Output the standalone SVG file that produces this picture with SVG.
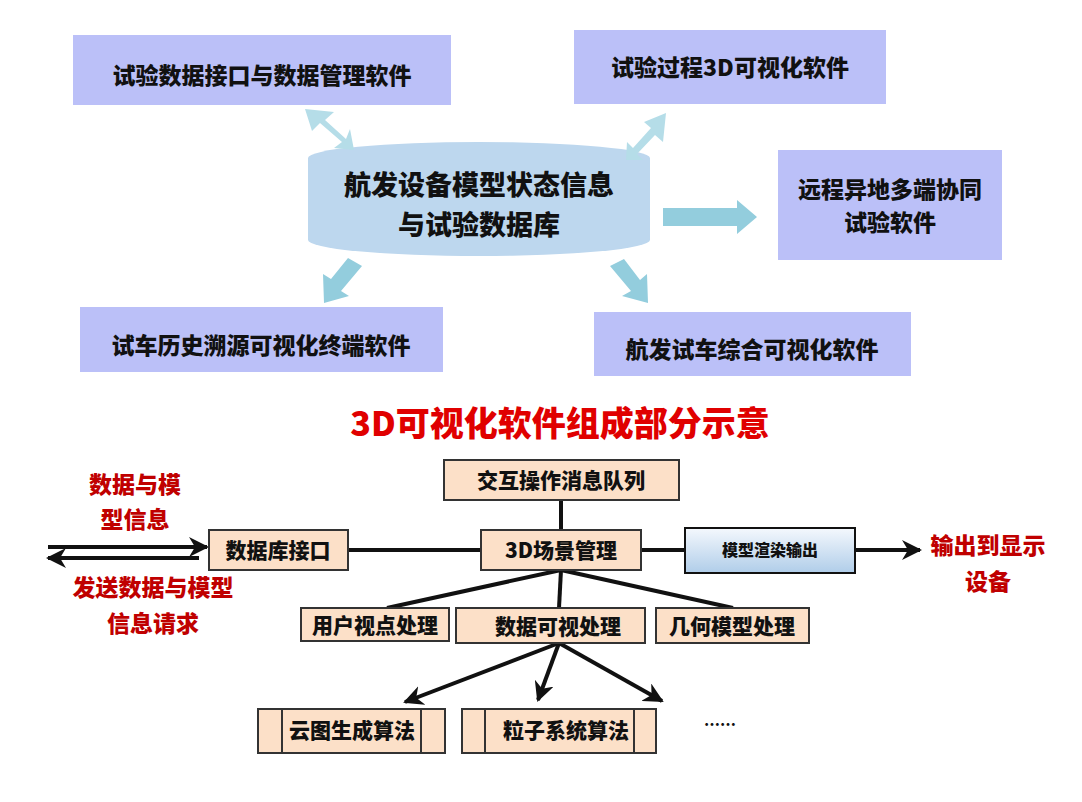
<svg xmlns="http://www.w3.org/2000/svg" width="1082" height="802" viewBox="0 0 1082 802">
<style>
text{font-family:"Noto Sans CJK SC","Liberation Sans",sans-serif;font-weight:900;text-anchor:middle}
.lav{fill:#bbc0f8}
.t1{font-size:23px;fill:#111}
.pb{fill:#fce0c8;stroke:#333;stroke-width:2}
.t2{font-size:21px;fill:#111}
.red{font-size:23px;fill:#c00000}
.ln{stroke:#111;stroke-width:4;fill:none}
</style>
<defs>
<marker id="ah" viewBox="0 0 10 10" refX="9" refY="5" markerWidth="5" markerHeight="5" orient="auto" markerUnits="strokeWidth"><path d="M0,0 L10,5 L0,10 L3,5Z" fill="#111"/></marker>
<linearGradient id="g" x1="0" y1="0" x2="0" y2="1"><stop offset="0" stop-color="#f4f8fd"/><stop offset="1" stop-color="#b0cde9"/></linearGradient>
</defs>
<rect width="1082" height="802" fill="#fff"/>
<g id="nodeA"><rect class="lav" x="73" y="35" width="378" height="70"/><text class="t1" x="262" y="84">试验数据接口与数据管理软件</text></g>
<g id="nodeB"><rect class="lav" x="574" y="30" width="312" height="74"/><text class="t1" x="730" y="76">试验过程3D可视化软件</text></g>
<g id="nodeC"><rect class="lav" x="778" y="150" width="224" height="110"/><text class="t1" x="890" y="198">远程异地多端协同</text><text class="t1" x="890" y="231">试验软件</text></g>
<g id="nodeD"><rect class="lav" x="80" y="307" width="363" height="65"/><text class="t1" x="261" y="354">试车历史溯源可视化终端软件</text></g>
<g id="nodeE"><rect class="lav" x="594" y="312" width="317" height="64"/><text class="t1" x="752" y="358">航发试车综合可视化软件</text></g>
<g id="db">
<path d="M308,158 A171,16 0 0 1 650,158 L650,240 A171,16 0 0 1 308,240 Z" fill="#bdd7ee"/>
<text x="479" y="195" font-size="27" fill="#111">航发设备模型状态信息</text>
<text x="479" y="235" font-size="27" fill="#111">与试验数据库</text>
</g>
<g id="blockArrows">
<path d="M305,109 L334,112 L325,120 L346,139 L350,129 L354,150 L334,148 L342,142 L320,123 L312,131 Z" fill="#b5dde8"/>
<path d="M666,113 L663,142 L655,135 L637,154 L643,160 L626,160 L627,142 L633,148 L651,128 L644,122 Z" fill="#b5dde8"/>
<path d="M663,208 L737,208 L737,200 L757,217 L737,234 L737,226 L663,226 Z" fill="#93cddd"/>
<path d="M362,266 L348,258 L331,279 L323,274 L324,303 L349,296 L341,291 Z" fill="#93cddd"/>
<path d="M610,266 L624,259 L640,280 L647,274 L648,303 L622,296 L631,291 Z" fill="#93cddd"/>
</g>
<text x="560" y="436" font-size="34" fill="#e00000">3D可视化软件组成部分示意</text>
<g id="connectors">
<line class="ln" x1="48" y1="547" x2="207" y2="547" marker-end="url(#ah)"/>
<line class="ln" x1="199" y1="558" x2="48" y2="558" marker-end="url(#ah)"/>
<line class="ln" x1="348" y1="550" x2="481" y2="550"/>
<line class="ln" x1="561" y1="500" x2="561" y2="530"/>
<line class="ln" x1="641" y1="550" x2="685" y2="550"/>
<line class="ln" x1="855" y1="550" x2="920" y2="550" marker-end="url(#ah)"/>
<line class="ln" x1="561" y1="570" x2="387" y2="608"/>
<line class="ln" x1="561" y1="570" x2="559" y2="608"/>
<line class="ln" x1="561" y1="570" x2="733" y2="608"/>
<line class="ln" x1="559" y1="643" x2="405" y2="702" marker-end="url(#ah)"/>
<line class="ln" x1="559" y1="643" x2="538" y2="700" marker-end="url(#ah)"/>
<line class="ln" x1="559" y1="643" x2="662" y2="701" marker-end="url(#ah)"/>
</g>
<g id="queue"><rect class="pb" x="444" y="460" width="235" height="40"/><text class="t2" x="561" y="488">交互操作消息队列</text></g>
<g id="dbif"><rect class="pb" x="209" y="530" width="139" height="40"/><text class="t2" x="278" y="558">数据库接口</text></g>
<g id="scene"><rect class="pb" x="481" y="530" width="160" height="40"/><text class="t2" x="561" y="558">3D场景管理</text></g>
<g id="render"><rect x="685" y="528" width="170" height="45" fill="url(#g)" stroke="#111" stroke-width="2"/><text x="770" y="556" font-size="16" fill="#111" font-weight="normal">模型渲染输出</text></g>
<g id="view"><rect class="pb" x="301" y="608" width="148" height="33"/><text class="t2" x="375" y="633">用户视点处理</text></g>
<g id="vis"><rect class="pb" x="456" y="608" width="189" height="35"/><text class="t2" x="558" y="634">数据可视处理</text></g>
<g id="geo"><rect class="pb" x="656" y="608" width="153" height="35"/><text class="t2" x="732" y="634">几何模型处理</text></g>
<g id="cloud"><rect class="pb" x="258" y="709" width="187" height="44"/><line x1="282" y1="709" x2="282" y2="753" stroke="#333" stroke-width="2"/><line x1="421" y1="709" x2="421" y2="753" stroke="#333" stroke-width="2"/><text class="t2" x="352" y="738">云图生成算法</text></g>
<g id="particle"><rect class="pb" x="462" y="709" width="194" height="44"/><line x1="485" y1="709" x2="485" y2="753" stroke="#333" stroke-width="2"/><line x1="634" y1="709" x2="634" y2="753" stroke="#333" stroke-width="2"/><text class="t2" x="566" y="738">粒子系统算法</text></g>
<text x="720" y="730" font-size="16" fill="#111" font-weight="normal">……</text>
<g id="labels">
<text class="red" x="135" y="493">数据与模</text>
<text class="red" x="135" y="528">型信息</text>
<text class="red" x="153" y="596">发送数据与模型</text>
<text class="red" x="153" y="632">信息请求</text>
<text class="red" x="988" y="554">输出到显示</text>
<text class="red" x="988" y="590">设备</text>
</g>
</svg>
